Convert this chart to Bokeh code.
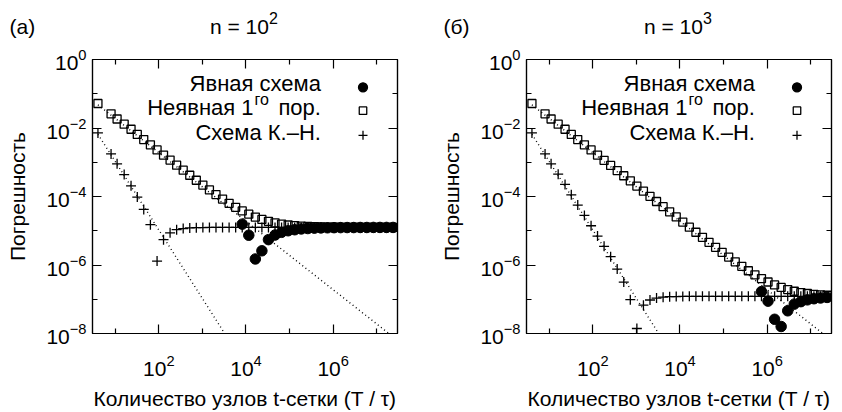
from bokeh.plotting import figure
from bokeh.models import FixedTicker, LogAxis, Label, CustomJSTickFormatter, LogTickFormatter
from bokeh.layouts import row, column
from bokeh.embed import file_html
from bokeh.resources import INLINE
import math

# ---------------- data ----------------
# number of t-grid nodes (T / tau)
N_VALUES = [4, 8, 11, 16, 23, 32, 45, 64, 91, 128,
            181, 256, 362, 512, 724, 1024, 1448, 2048, 2896, 4096,
            5793, 8192, 11585, 16384, 23170, 32768, 46341, 65536, 92682, 131072,
            185364, 262144, 370728, 524288, 741455, 1048576, 1482910, 2097152, 2965821, 4194304,
            5931642, 8388608, 11863283, 16777216, 23726566]

# panel (a): n = 10^2
a_implicit = [5.2e-2, 2.6e-2, 1.83e-2, 1.29e-2, 9.2e-3, 6.5e-3, 4.6e-3, 3.23e-3, 2.29e-3, 1.62e-3,
              1.16e-3, 8.2e-4, 5.85e-4, 4.17e-4, 2.98e-4, 2.15e-4, 1.555e-4, 1.135e-4, 8.4e-5, 6.3e-5,
              4.82e-5, 3.78e-5, 3.04e-5, 2.51e-5, 2.14e-5, 1.88e-5, 1.70e-5, 1.57e-5, 1.47e-5, 1.41e-5,
              1.36e-5, 1.33e-5, 1.31e-5, 1.29e-5, 1.28e-5, 1.27e-5, 1.26e-5, 1.26e-5, 1.26e-5, 1.25e-5,
              1.25e-5, 1.25e-5, 1.25e-5, 1.25e-5, 1.25e-5]
a_cn = [7.2e-3, 1.75e-3, 9.0e-4, 4.37e-4, 2.05e-4, 9.6e-5, 4.2e-5, 1.5e-5, 1.3e-6, 5.5e-6,
        8.7e-6, 1.075e-5, 1.16e-5, 1.21e-5, 1.23e-5, 1.24e-5, 1.25e-5, 1.25e-5, 1.25e-5, 1.25e-5,
        1.25e-5, 1.25e-5, 1.25e-5, 1.25e-5, 1.25e-5, 1.25e-5, 1.25e-5, 1.25e-5, 1.25e-5, 1.25e-5,
        1.25e-5, 1.25e-5, 1.25e-5, 1.25e-5, 1.25e-5, 1.25e-5, 1.25e-5, 1.25e-5, 1.25e-5, 1.25e-5,
        1.25e-5, 1.25e-5, 1.25e-5, 1.25e-5, 1.25e-5]
a_explicit_n = N_VALUES[21:]
a_explicit = [1.56e-5, 7.4e-6, 1.5e-6, 2.6e-6, 5.5e-6, 7.5e-6, 9.0e-6, 1.0e-5, 1.07e-5, 1.13e-5,
              1.16e-5, 1.19e-5, 1.21e-5, 1.22e-5, 1.23e-5, 1.235e-5, 1.24e-5, 1.24e-5, 1.245e-5, 1.245e-5,
              1.25e-5, 1.25e-5, 1.25e-5, 1.25e-5]

# panel (б): n = 10^3
b_implicit = [5.2e-2, 2.6e-2, 1.83e-2, 1.29e-2, 9.2e-3, 6.5e-3, 4.6e-3, 3.23e-3, 2.29e-3, 1.62e-3,
              1.14e-3, 8.09e-4, 5.72e-4, 4.04e-4, 2.86e-4, 2.02e-4, 1.43e-4, 1.01e-4, 7.15e-5, 5.05e-5,
              3.57e-5, 2.53e-5, 1.79e-5, 1.27e-5, 9.05e-6, 6.44e-6, 4.59e-6, 3.28e-6, 2.35e-6, 1.70e-6,
              1.24e-6, 9.12e-7, 6.8e-7, 5.17e-7, 4.01e-7, 3.19e-7, 2.62e-7, 2.21e-7, 1.92e-7, 1.71e-7,
              1.57e-7, 1.47e-7, 1.39e-7, 1.34e-7, 1.31e-7]
b_cn = [7.2e-3, 1.75e-3, 9.0e-4, 4.49e-4, 2.25e-4, 1.12e-4, 5.6e-5, 2.8e-5, 1.4e-5, 7.0e-6,
        3.5e-6, 1.75e-6, 7.6e-7, 3.17e-7, 9.7e-8, 1.4e-8, 6.7e-8, 9.5e-8, 1.08e-7, 1.15e-7,
        1.19e-7, 1.20e-7, 1.21e-7, 1.22e-7, 1.22e-7, 1.22e-7, 1.22e-7, 1.22e-7, 1.22e-7, 1.22e-7,
        1.22e-7, 1.22e-7, 1.22e-7, 1.22e-7, 1.22e-7, 1.22e-7, 1.22e-7, 1.22e-7, 1.22e-7, 1.22e-7,
        1.22e-7, 1.22e-7, 1.22e-7, 1.22e-7, 1.22e-7]
b_explicit_n = N_VALUES[34:]
b_explicit = [1.68e-7, 8.8e-8, 2.6e-8, 1.6e-8, 4.6e-8, 7.2e-8, 8.5e-8, 9.6e-8, 1.035e-7, 1.09e-7,
              1.13e-7]

# reference slopes (dotted): first order C1/N and second order C2/N^2
FIT_N = [4, 3e7]
C1_FIRST = 0.19
C2_SECOND = 0.105

LEGEND_LABELS = ["Явная схема", "Неявная 1", "го", "пор.", "Схема К.–Н."]
X_TICKS = [1e2, 1e4, 1e6]
X_MINOR = [1e1, 1e3, 1e5, 1e7]
Y_TICKS = [1e0, 1e-2, 1e-4, 1e-6, 1e-8]
Y_MINOR = [1e-1, 1e-3, 1e-5, 1e-7]
X_RANGE = (3, 3e7)
Y_RANGE = (1e-8, 1)

FONT = "Liberation Sans"
W = 421
HEAD_H = 45
H = 412 - HEAD_H
TOP, BOTTOM = 14, 75
FRAME_W, FRAME_H = 305, H - TOP - BOTTOM
BASE_FIX = 8  # raise alphabetic baselines


def frame_to_data(fx, fy):
    lx0, lx1 = math.log10(X_RANGE[0]), math.log10(X_RANGE[1])
    ly0, ly1 = math.log10(Y_RANGE[0]), math.log10(Y_RANGE[1])
    return 10 ** (lx0 + fx / FRAME_W * (lx1 - lx0)), 10 ** (ly0 + fy / FRAME_H * (ly1 - ly0))


def lbl(p, text, x, y, size, align="left", units="screen"):
    p.add_layout(Label(x=x, y=y + BASE_FIX, x_units=units, y_units=units, text=text,
                       text_font=FONT, text_font_size=size, text_align=align,
                       text_baseline="alphabetic", text_color="black"))


def header(tag, exp, left):
    h = figure(width=W, height=HEAD_H, x_range=(0, W), y_range=(0, HEAD_H),
               output_backend="svg", toolbar_location=None, x_axis_location=None,
               y_axis_location=None, min_border=0, outline_line_color=None,
               background_fill_color="white", border_fill_color="white")
    h.grid.visible = False
    # page coordinates: y measured from the top of the page
    lbl(h, tag, left - 83, HEAD_H - 34, "21px", units="data")
    lbl(h, "n = 10", left + 117.5, HEAD_H - 34, "21px", units="data")
    lbl(h, exp, left + 117.5 + 59, HEAD_H - 25.7, "16px", units="data")
    return h


def panel(implicit, cn, ex_n, ex_v, left):
    p = figure(width=W, height=H, x_axis_type="log", y_axis_type="log",
               x_range=X_RANGE, y_range=Y_RANGE, output_backend="svg",
               toolbar_location=None, min_border_left=left,
               min_border_right=W - left - FRAME_W, min_border_top=TOP,
               min_border_bottom=BOTTOM, background_fill_color="white",
               border_fill_color="white")
    p.grid.visible = False
    p.outline_line_color = "black"
    p.outline_line_width = 1.2

    for ax, tk, mn in ((p.xaxis[0], X_TICKS, X_MINOR), (p.yaxis[0], Y_TICKS, Y_MINOR)):
        ax.ticker = FixedTicker(ticks=tk, minor_ticks=mn)
        ax.formatter = LogTickFormatter()
        ax.major_tick_in = 9
        ax.major_tick_out = 0
        ax.minor_tick_in = 5
        ax.minor_tick_out = 0
        ax.major_tick_line_width = 1.2
        ax.minor_tick_line_width = 1.2
        ax.axis_line_width = 1.2
        ax.major_label_text_font = FONT
        ax.major_label_text_font_size = "21px"
        ax.major_label_text_color = "black"
        ax.axis_label_text_font = FONT
        ax.axis_label_text_font_size = "21px"
        ax.axis_label_text_font_style = "normal"
        ax.axis_label_text_color = "black"
    p.xaxis[0].axis_label = "Количество узлов t-сетки (T / τ)"
    p.xaxis[0].major_label_standoff = 21
    p.xaxis[0].axis_label_standoff = 8
    p.yaxis[0].axis_label = "Погрешность"
    p.yaxis[0].major_label_standoff = 6
    p.yaxis[0].axis_label_standoff = 14

    for side, tk, mn in (("above", X_TICKS, X_MINOR), ("right", Y_TICKS, Y_MINOR)):
        ax = LogAxis(ticker=FixedTicker(ticks=tk, minor_ticks=mn),
                     formatter=CustomJSTickFormatter(code="return ''"),
                     major_tick_in=9, major_tick_out=0, minor_tick_in=5, minor_tick_out=0,
                     major_tick_line_width=1.2, minor_tick_line_width=1.2,
                     axis_line_width=1.2, major_label_standoff=0,
                     major_label_text_font_size="0px")
        p.add_layout(ax, side)

    # dotted reference slopes
    p.line(FIT_N, [C1_FIRST / n for n in FIT_N], line_color="black", line_width=1.4,
           line_dash="1 3")
    p.line(FIT_N, [C2_SECOND / n ** 2 for n in FIT_N], line_color="black", line_width=1.4,
           line_dash="1 3")

    p.scatter(N_VALUES, cn, marker="cross", size=10, line_color="black", line_width=1.3)
    p.scatter(N_VALUES, implicit, marker="square", size=8, fill_color=None,
              line_color="black", line_width=1.3)
    p.scatter(ex_n, ex_v, marker="circle", size=10.5, fill_color="black", line_color="black")

    # legend (text right aligned, symbol on the right)
    tx, mx = 228.4, 270.5
    rows = [249.8, 226.1, 201.1]
    lbl(p, LEGEND_LABELS[0], tx, rows[0] - 8, "22px", "right")
    lbl(p, LEGEND_LABELS[3], tx, rows[1] - 8, "22px", "right")
    lbl(p, LEGEND_LABELS[2], tx - 52, rows[1], "16px", "right")
    lbl(p, LEGEND_LABELS[1], tx - 52 - 15.3, rows[1] - 8, "22px", "right")
    lbl(p, LEGEND_LABELS[4], tx, rows[2] - 8, "22px", "right")
    for fy, mk, fill, sz in ((rows[0], "circle", "black", 9), (rows[1], "square", None, 7.5),
                             (rows[2], "cross", None, 9)):
        dx, dy = frame_to_data(mx, fy)
        p.scatter([dx], [dy], marker=mk, size=sz, fill_color=fill, line_color="black",
                  line_width=1.3)
    return p


h1 = header("(a)", "2", 92)
h2 = header("(б)", "3", 105)
p1 = panel(a_implicit, a_cn, a_explicit_n, a_explicit, 92)
p2 = panel(b_implicit, b_cn, b_explicit_n, b_explicit, 105)
layout = column(row(h1, h2), row(p1, p2))

open("out.html", "w").write(file_html(layout, INLINE))
